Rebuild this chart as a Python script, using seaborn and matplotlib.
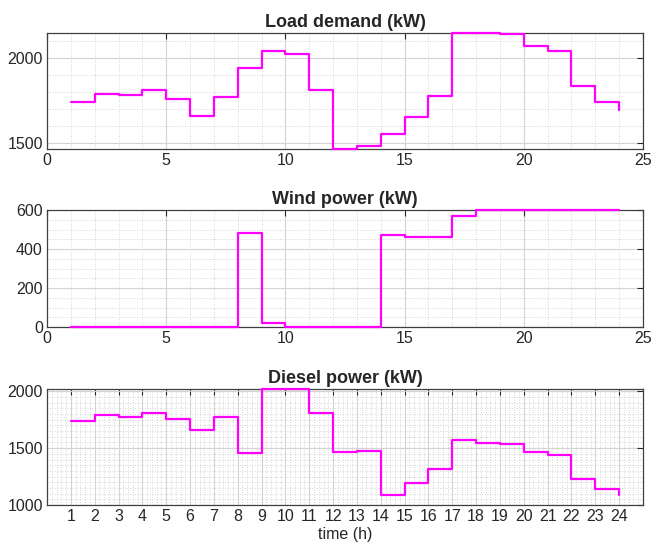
import numpy as np
import pandas as pd
import matplotlib
matplotlib.use("Agg")
import matplotlib.pyplot as plt
from matplotlib.ticker import MultipleLocator
import seaborn as sns

hours = list(range(1, 25))
load_kw = [1738, 1788, 1779, 1808, 1757, 1657, 1771, 1941, 2040, 2022, 1808, 1462,
           1482, 1553, 1652, 1774, 2145, 2145, 2141, 2068, 2039, 1830, 1741, 1691]
wind_kw = [0, 0, 0, 0, 0, 0, 0, 480, 20, 0, 0, 0,
           0, 470, 460, 460, 570, 600, 600, 600, 600, 600, 600, 600]
diesel_kw = [1735, 1787, 1778, 1808, 1755, 1656, 1770, 1458, 2020, 2020, 1805, 1464,
             1478, 1085, 1190, 1318, 1574, 1548, 1540, 1469, 1440, 1230, 1140, 1087]
titles = ["Load demand (kW)", "Wind power (kW)", "Diesel power (kW)"]
xlabel = "time (h)"

sns.set_style("white")
plt.rcParams['font.family'] = ['Liberation Sans', 'DejaVu Sans']

W, H = 652, 549
fig = plt.figure(figsize=(W / 100, H / 100), dpi=100)

def make_ax(left, top, right, bottom):
    return fig.add_axes([left / W, 1 - bottom / H, (right - left) / W, (bottom - top) / H])

ax1 = make_ax(47, 33, 643, 149)
ax2 = make_ax(47, 210, 643, 327)
ax3 = make_ax(47, 389, 643, 505)

df = pd.DataFrame({"hour": hours, "load": load_kw, "wind": wind_kw, "diesel": diesel_kw})

specs = [
    (ax1, "load", (min(load_kw), max(load_kw)), 500, 100, 5, 1),
    (ax2, "wind", (0, 600), 200, 50, 5, 1),
    (ax3, "diesel", (1000, max(diesel_kw)), 500, 50, 1, 0.2),
]

for (ax, col, ylim, ymaj, ymin, xmaj, xmin), title in zip(specs, titles):
    sns.lineplot(data=df, x="hour", y=col, ax=ax, color="#FF00FF", linewidth=1.6,
                 drawstyle="steps-post", estimator=None, legend=False)
    for ln in ax.lines:
        ln.set_clip_on(False)
        ln.set_zorder(5)
    ax.set_xlim(0, 25)
    ax.set_ylim(*ylim)
    ax.xaxis.set_major_locator(MultipleLocator(xmaj))
    ax.xaxis.set_minor_locator(MultipleLocator(xmin))
    ax.yaxis.set_major_locator(MultipleLocator(ymaj))
    ax.yaxis.set_minor_locator(MultipleLocator(ymin))
    ax.grid(True, which="major", color="#d4d4d4", linewidth=0.8, linestyle="-")
    ax.grid(True, which="minor", color="#c8c8c8", linewidth=0.6, linestyle=(0, (1, 2)))
    ax.set_axisbelow(True)
    ax.tick_params(which="major", direction="in", length=4, width=0.8, top=True, right=True,
                   labelsize=11.5, colors="#262626", pad=3)
    ax.tick_params(which="minor", length=0, top=True, right=True)
    for s in ax.spines.values():
        s.set_color("#404040")
        s.set_linewidth(0.9)
    ax.set_title(title, fontsize=13, fontweight="bold", pad=4)
    ax.set_xlabel("")
    ax.set_ylabel("")

ax1.set_yticks([1500, 2000])
ax2.set_yticks([0, 200, 400, 600])
ax3.set_xticks(hours)
ax3.set_yticks([1000, 1500, 2000])
ax3.set_xlabel(xlabel, fontsize=11.5, labelpad=2)

fig.savefig("out.png", dpi=100)
